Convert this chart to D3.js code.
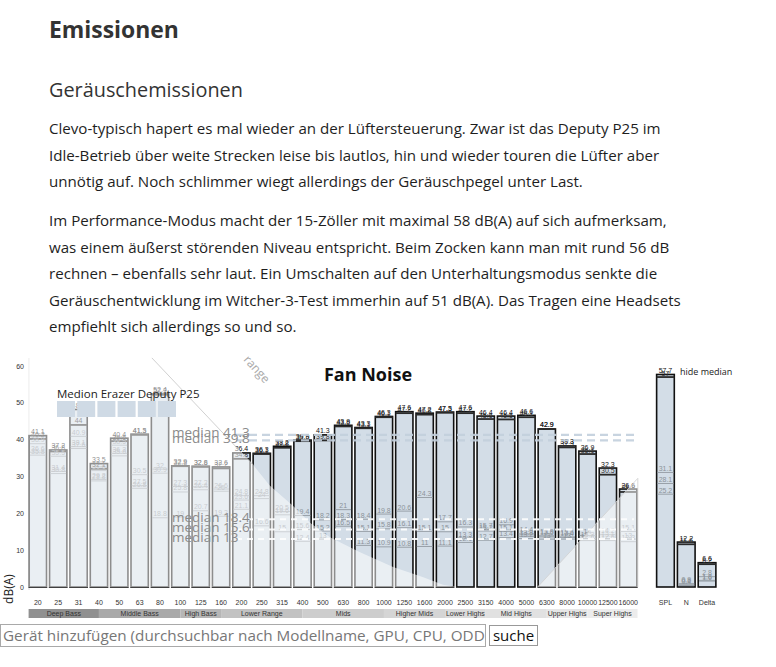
<!DOCTYPE html>
<html><head><meta charset="utf-8">
<script src="https://cdn.jsdelivr.net/npm/d3@7"></script>
<style>html,body{margin:0;padding:0;background:#fff;overflow:hidden}</style>
</head><body><svg id="c" width="776" height="667"></svg>
<script>
// ---------- data ----------
const bands = ["20","25","31","40","50","63","80","100","125","160","200","250","315","400","500","630","800","1000","1250","1600","2000","2500","3150","4000","5000","6300","8000","10000","12500","16000"];
const extraCats = ["SPL","N","Delta"];
// series (30 bands + SPL, N, Delta)
const seriesA = [41.1,37.2,48.2,33.5,40.4,41.5,52.4,32.9,32.8,32.6,36.4,36.3,38.2,39.9,41.3,43.9,43.3,46.3,47.6,47.2,47.5,47.6,46.4,46.4,46.6,42.9,38.3,36.9,32.3,26.6, 57.7,12.2,6.6];
const seriesB = [40.2,36.8,44.0,32.1,39.6,41.3,52.2,32.8,32.6,32.2,34.8,36.1,37.8,39.6,39.8,43.6,43.1,46.1,47.2,46.8,47.3,47.2,45.6,45.5,46.1,42.9,37.9,36.1,30.5,25.8, 57.0,11.6,6.2];
const seriesC = [38.9,35.5,40.9,31.6,38.5,30.5,32.0,27.3,27.2,26.6,24.8,24.8,20.5,19.4,18.2,21.0,18.4,19.8,20.6,24.3,17.7,16.3,15.7,16.9,14.4,13.9,13.6,14.0,14.2,15.1, 31.1,0.9,2.8];
const seriesD = [36.6,31.4,38.1,29.2,36.3,27.5,30.9,25.8,26.4,26.0,23.6,24.0,19.6,15.6,15.2,18.3,15.1,15.8,16.1,15.1,15.0,13.3,15.2,15.1,13.8,13.6,13.4,13.2,13.1,13.0, 28.1,0.6,1.8];
const seriesE = [35.8,30.8,37.6,28.8,35.6,26.8,18.8,19.0,20.7,19.2,21.1,16.6,15.0,12.4,13.0,16.5,11.3,10.9,10.8,11.0,11.1,12.1,12.7,13.4,13.2,13.0,13.0,12.6,12.6,12.3, 25.2,0.4,1.6];
const medianVals = [41.3, 39.8, 18.4, 15.6, 13];
const yTicks = [0,10,20,30,40,50,60];
const groupNames = ["Deep Bass","Middle Bass","High Bass","Lower Range","Mids","Higher Mids","Lower Highs","Mid Highs","Upper Highs","Super Highs"];
const groupEnds  = ["40","100","160","400","1000","2000","3150","6300","10000",null];
const groupColors = ["#909090","#a9a9a9","#b6b6b6","#c2c2c2","#cdcdcd","#d5d5d5","#dbdbdb","#e1e1e1","#e6e6e6","#ececec"];
// "range" overlay outline in (band index, dB)
const rangeLeftIdx = [-0.47,5.6,10.6,11.4,12.5,13.4,14.35,15.8,17.45,18.9,19.9,20.6,-0.47];
const rangeLeftDb  = [62.2,62.2,33.0,27.5,22.2,17.3,13.5,9.5,5.4,2.7,0.6,0,0];
const rangeRightIdx = [24.55,29.47,29.47];
const rangeRightDb  = [0,29.5,0];
const legendName = "Medion Erazer Deputy P25";
const legendCount = 6;

const para1 = ["Clevo-typisch hapert es mal wieder an der Lüftersteuerung. Zwar ist das Deputy P25 im",
 "Idle-Betrieb über weite Strecken leise bis lautlos, hin und wieder touren die Lüfter aber",
 "unnötig auf. Noch schlimmer wiegt allerdings der Geräuschpegel unter Last."];
const para2 = ["Im Performance-Modus macht der 15-Zöller mit maximal 58 dB(A) auf sich aufmerksam,",
 "was einem äußerst störenden Niveau entspricht. Beim Zocken kann man mit rund 56 dB",
 "rechnen – ebenfalls sehr laut. Ein Umschalten auf den Unterhaltungsmodus senkte die",
 "Geräuschentwicklung im Witcher-3-Test immerhin auf 51 dB(A). Das Tragen eine Headsets",
 "empfiehlt sich allerdings so und so."];

// ---------- page text ----------
const svg = d3.select("#c");
const ff = "'Open Sans','Noto Sans',sans-serif";
const cf = "'Liberation Sans',Arial,sans-serif";
function fit(sel, target){ const w = sel.node().getComputedTextLength(); sel.attr("font-size", (+sel.attr("font-size"))*target/w); return sel; }

fit(svg.append("text").attr("x",49).attr("y",38).attr("font-family",ff).attr("font-weight",700)
  .attr("font-size",21).attr("fill","#333").text("Emissionen"),130);
fit(svg.append("text").attr("x",49).attr("y",97).attr("font-family",ff)
  .attr("font-size",19).attr("fill","#333").text("Geräuschemissionen"),194);

const pg = svg.append("g").attr("font-family",ff).attr("fill","#1e1e1e");
const t0 = pg.append("text").attr("x",49).attr("y",134).attr("font-size",15).text(para1[0]);
const w0 = t0.node().getComputedTextLength();
const pfs = 15*612/w0;
t0.attr("font-size",pfs);
para1.slice(1).forEach((s,i)=>pg.append("text").attr("x",49).attr("y",160.5+i*26.5).attr("font-size",pfs).text(s));
para2.forEach((s,i)=>pg.append("text").attr("x",49).attr("y",226+i*26.5).attr("font-size",pfs).text(s));

// ---------- chart ----------
const cats = bands.concat(extraCats);
const xB = d3.scaleBand().domain(bands).range([28.6,637.5]).paddingInner(0.15).paddingOuter(0.03);
const xE = d3.scaleBand().domain(extraCats).range([656,716.5]).paddingInner(0.15).paddingOuter(0.03);
const pos = c => bands.includes(c) ? xB(c) : xE(c);
const bwOf = c => bands.includes(c) ? xB.bandwidth() : xE.bandwidth();
const y = d3.scaleLinear().domain([0,60]).range([587,366]);
const bw = xB.bandwidth();
const xi = d3.scaleLinear().domain([0,29]).range([xB(bands[0])+bw/2, xB(bands[29])+bw/2]);

const chart = svg.append("g");
// y axis
chart.append("line").attr("x1",29).attr("x2",29).attr("y1",358).attr("y2",590).attr("stroke","#ddd");
chart.selectAll(".yt").data(yTicks).join("text").attr("x",24).attr("y",d=>y(d)+2.5)
  .attr("text-anchor","end").attr("font-family",cf).attr("font-size",7).attr("fill","#333").text(d=>d);
chart.append("text").attr("transform","translate(13,589) rotate(-90)").attr("text-anchor","middle")
  .attr("font-family",ff).attr("font-size",12).attr("fill","#222").text("dB(A)");

// bars
const data = cats.map((c,i)=>({c,A:seriesA[i],B:seriesB[i],C:seriesC[i],D:seriesD[i],E:seriesE[i]}));
const bg = chart.selectAll(".bar").data(data).join("g");
bg.append("rect").attr("x",d=>pos(d.c)).attr("width",d=>bwOf(d.c)).attr("y",d=>y(d.A)).attr("height",d=>y(0)-y(d.A))
  .attr("fill","#d3dde7").attr("stroke","#111").attr("stroke-width",1.6);
["C","D","E"].forEach(k=>{
  bg.append("line").attr("x1",d=>pos(d.c)+0.8).attr("x2",d=>pos(d.c)+bwOf(d.c)-0.8).attr("y1",d=>y(d[k])).attr("y2",d=>y(d[k]))
    .attr("stroke","#98a0a8").attr("stroke-width",1);
});
bg.append("line").attr("x1",d=>pos(d.c)).attr("x2",d=>pos(d.c)+bwOf(d.c)).attr("y1",d=>y(d.B)).attr("y2",d=>y(d.B))
  .attr("stroke","#2a2a2a").attr("stroke-width",1.8);
["E","D","C"].forEach(k=>{
  bg.append("text").attr("x",d=>pos(d.c)+bwOf(d.c)/2).attr("y",d=>y(d[k])-1.5).attr("text-anchor","middle")
    .attr("font-family",cf).attr("font-size",7).attr("fill","#8c939a").text(d=>d[k]);
});
["B","A"].forEach(k=>{
  bg.append("text").attr("x",d=>pos(d.c)+bwOf(d.c)/2).attr("y",d=>y(d[k])-1.5).attr("text-anchor","middle")
    .attr("font-family",cf).attr("font-size",7).attr("fill",k==="A"?"#111":"#333").text(d=>d[k]);
});

// range overlay
const ln = d3.line().x(d=>xi(d[0])).y(d=>y(d[1]));
chart.append("path").attr("d",ln(d3.zip(rangeLeftIdx,rangeLeftDb))+"Z").attr("fill","#fff").attr("fill-opacity",0.52);
chart.append("path").attr("d",ln(d3.zip(rangeRightIdx,rangeRightDb))+"Z").attr("fill","#fff").attr("fill-opacity",0.52);
chart.append("path").attr("d",ln([[rangeLeftIdx[1],rangeLeftDb[1]],[rangeLeftIdx[2],rangeLeftDb[2]]])).attr("stroke","#c4c4c4").attr("stroke-width",0.8).attr("fill","none");
chart.append("path").attr("d",ln([[rangeRightIdx[0],rangeRightDb[0]],[rangeRightIdx[1],rangeRightDb[1]],[rangeRightIdx[2],rangeRightDb[2]]])).attr("stroke","#d0d0d0").attr("stroke-width",0.8).attr("fill","none");
chart.append("text").attr("transform","translate(243,360) rotate(48)").attr("font-family",ff).attr("font-size",12)
  .attr("fill","#a8a8a8").text("range");

// medians
medianVals.forEach((m,i)=>{
  chart.append("line").attr("x1",236).attr("x2",634).attr("y1",y(m)).attr("y2",y(m))
    .attr("stroke", i<2 ? "#c3d0dd" : "#ffffff").attr("stroke-width", i<2?2.2:2).attr("stroke-dasharray", i<2?"8,5":"6,5")
    .attr("opacity",0.9);
  chart.append("text").attr("x",172).attr("y",y(m)+2.5).attr("font-family",ff).attr("font-size",13.5)
    .attr("fill","#8a8a8a").text("median "+m);
});

// legend
chart.selectAll(".sw").data(d3.range(legendCount)).join("rect").attr("x",d=>57+d*20.2).attr("y",401)
  .attr("width",18).attr("height",16).attr("fill","#cfdae5");
chart.append("text").attr("x",57).attr("y",398).attr("font-family",ff).attr("font-size",11.5).attr("fill","#222").text(legendName);
chart.append("text").attr("x",368).attr("y",381).attr("text-anchor","middle").attr("font-family",ff).attr("font-weight",700)
  .attr("font-size",18).attr("fill","#111").text("Fan Noise");
chart.append("text").attr("x",680).attr("y",375).attr("font-family",ff).attr("font-size",9).attr("fill","#222").text("hide median");

// x labels
chart.selectAll(".xl").data(cats).join("text").attr("x",c=>pos(c)+bwOf(c)/2).attr("y",605).attr("text-anchor","middle")
  .attr("font-family",cf).attr("font-size",7).attr("fill","#333").text(c=>c);

// frequency groups
let gx = xB.range()[0];
groupNames.forEach((g,i)=>{
  const end = groupEnds[i] ? xB(groupEnds[i])+bw/2 : xB.range()[1];
  chart.append("rect").attr("x",gx).attr("y",609).attr("width",end-gx).attr("height",9).attr("fill",groupColors[i]);
  chart.append("text").attr("x",(gx+end)/2).attr("y",616.3).attr("text-anchor","middle").attr("font-family",cf)
    .attr("font-size",7).attr("fill","#333").text(g);
  gx = end;
});

// search box
svg.append("rect").attr("x",0.5).attr("y",624.5).attr("width",485).attr("height",22).attr("fill","#fff").attr("stroke","#a9a9a9");
svg.append("clipPath").attr("id","cp").append("rect").attr("x",1).attr("y",625).attr("width",484).attr("height",21);
fit(svg.append("text").attr("x",3).attr("y",641).attr("clip-path","url(#cp)").attr("font-family",ff).attr("font-size",15)
  .attr("fill","#777").text("Gerät hinzufügen (durchsuchbar nach Modellname, GPU, CPU, ODD)"), 487);
svg.append("rect").attr("x",489.5).attr("y",625.5).attr("width",48).attr("height",20).attr("fill","#fff").attr("stroke","#999");
svg.append("text").attr("x",513.5).attr("y",641).attr("text-anchor","middle").attr("font-family",ff).attr("font-size",15)
  .attr("fill","#111").text("suche");
</script></body></html>
